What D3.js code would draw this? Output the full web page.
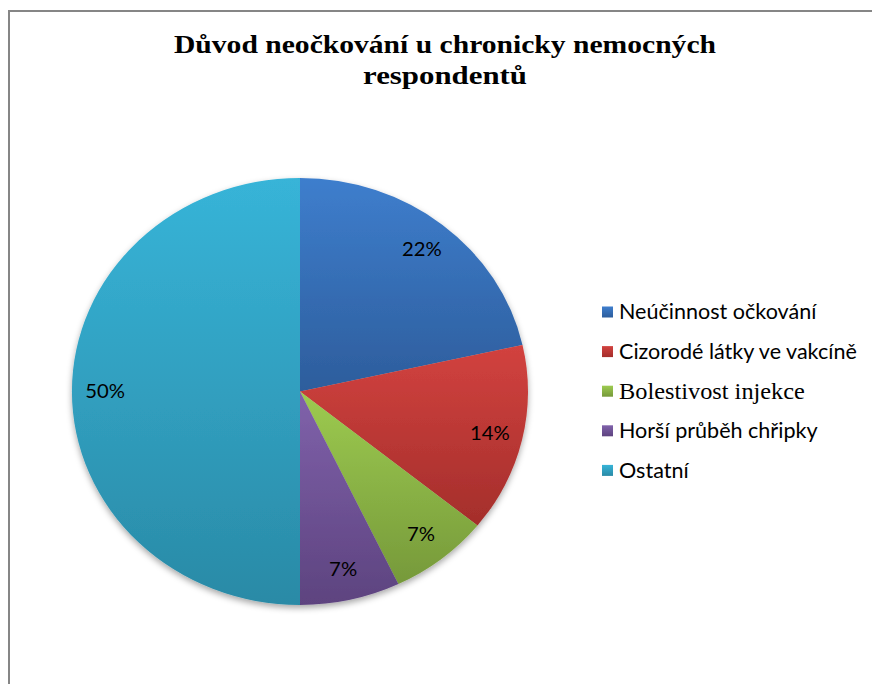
<!DOCTYPE html>
<html><head><meta charset="utf-8">
<script src="https://cdn.jsdelivr.net/npm/d3@7"></script>
<style>body{margin:0;background:#fff}svg{display:block}</style>
</head><body>
<script>
const categories = ["Neúčinnost očkování","Cizorodé látky ve vakcíně","Bolestivost injekce","Horší průběh chřipky","Ostatní"];
const values = [21.5, 14.3, 7.1, 7.1, 50];
const colorsTop = ["#3E7ECD","#D2423F","#9DCB50","#8062AB","#37B4D8"];
const colorsBottom = ["#2D5D9C","#A42E2B","#76993A","#5D437F","#2A8AA6"];
const titleLines = ["Důvod neočkování u chronicky nemocných","respondentů"];

const W = 872, H = 684;
const svg = d3.select("body").append("svg").attr("width", W).attr("height", H);

// frame
svg.append("rect").attr("x", 9).attr("y", 11).attr("width", 900).attr("height", 700)
  .attr("fill", "#fff").attr("stroke", "#868686").attr("stroke-width", 2);

const defs = svg.append("defs");
const f = defs.append("filter").attr("id","sh").attr("x","-20%").attr("y","-20%").attr("width","140%").attr("height","140%");
f.append("feDropShadow").attr("dx",0).attr("dy",3).attr("stdDeviation",3).attr("flood-color","#000").attr("flood-opacity",0.35);
categories.forEach((c,i)=>{
  const g = defs.append("linearGradient").attr("id","g"+i).attr("x1",0).attr("y1",0).attr("x2",0).attr("y2",1);
  g.append("stop").attr("offset","0%").attr("stop-color",colorsTop[i]);
  g.append("stop").attr("offset","100%").attr("stop-color",colorsBottom[i]);
});

const cx = 300, cy = 391.5, ry = 213.5, rx = 228, sx = rx/ry;

// title
const titleWidths = [542, 164];
svg.append("g").selectAll("text").data(titleLines).join("text")
  .attr("x", 445).attr("y",(d,i)=>53+i*30.5).attr("text-anchor","middle")
  .attr("font-family","'Liberation Serif', serif").attr("font-weight","bold").attr("font-size",25)
  .attr("textLength",(d,i)=>titleWidths[i]).attr("lengthAdjust","spacingAndGlyphs")
  .attr("fill","#000").text(d=>d);

const pie = d3.pie().value(d=>d).sort(null);
const arcs = pie(values);
const arc = d3.arc().innerRadius(0).outerRadius(ry);
const labelArc = d3.arc().innerRadius(ry*0.855).outerRadius(ry*0.855);

const pg = svg.append("g").attr("transform",`translate(${cx},${cy}) scale(${sx},1)`).attr("filter","url(#sh)");
pg.selectAll("path").data(arcs).join("path")
  .attr("d", arc).attr("fill",(d,i)=>`url(#g${i})`);

svg.append("g").selectAll("text").data(arcs).join("text")
  .attr("transform", d=>`translate(${cx + labelArc.centroid(d)[0]*sx},${cy + labelArc.centroid(d)[1]}) scale(${sx},1)`)
  .attr("dy","0.35em").attr("text-anchor","middle")
  .attr("font-family","Lato, sans-serif").attr("font-size",19).attr("fill","#000")
  .text(d=>Math.round(d.value)+"%");

// legend
const lg = svg.append("g").selectAll("g").data(categories).join("g")
  .attr("transform",(d,i)=>`translate(602,${312+i*39.6})`);
lg.append("rect").attr("x",0).attr("y",-5.5).attr("width",11).attr("height",11)
  .attr("fill",(d,i)=>`url(#g${i})`);
lg.append("text").attr("transform",`translate(17,0) scale(${sx},1)`).attr("dy","0.36em")
  .attr("font-family",(d,i)=> i===2 ? "'Liberation Serif', serif" : "Lato, sans-serif")
  .attr("font-size",(d,i)=> i===2 ? 22.8 : 20.2)
  .attr("fill","#000").text(d=>d);
</script>
</body></html>
